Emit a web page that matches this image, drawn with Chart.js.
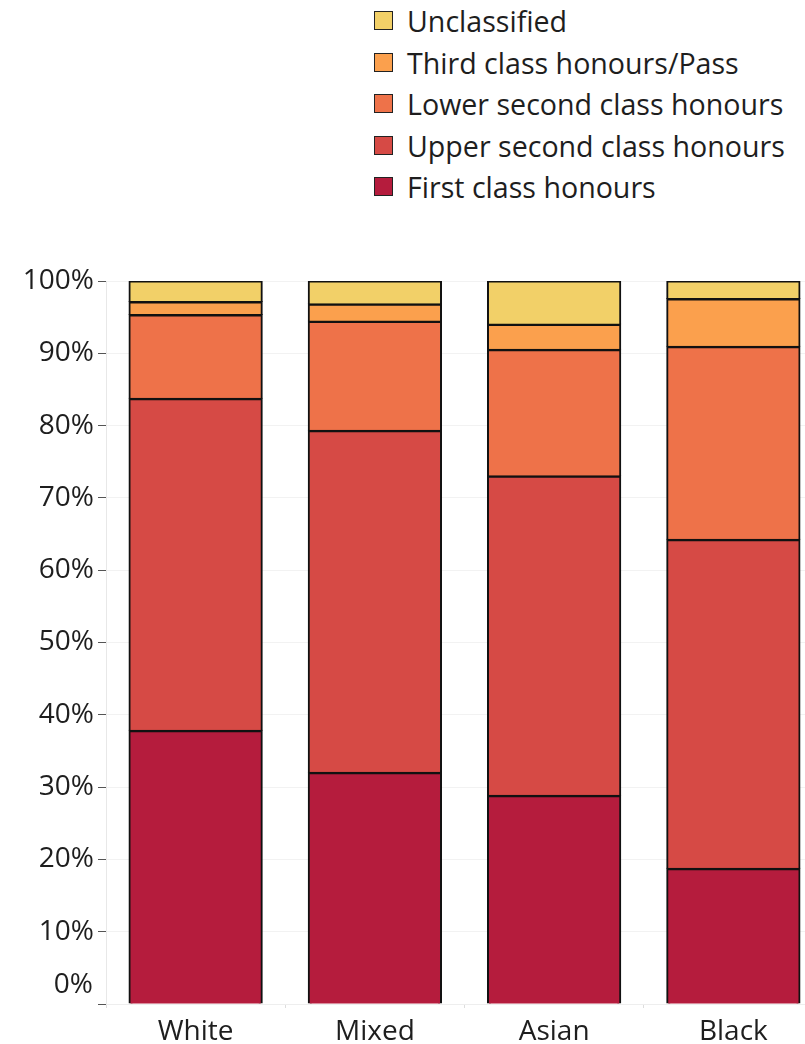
<!DOCTYPE html>
<html>
<head>
<meta charset="utf-8">
<script src="https://cdn.jsdelivr.net/npm/chart.js@4.4.1/dist/chart.umd.min.js"></script>
<style>
    html, body { margin: 0; padding: 0; background: #fff; overflow: hidden; }
    body { width: 805px; height: 1044px; position: relative; font-family: "Open Sans", Lato, sans-serif; }
    #wrap { position: absolute; left: 0; top: 0; width: 823px; height: 1044px; }
    #legend { position: absolute; left: 374px; top: 0; margin: 0; padding: 0; list-style: none; }
    #legend li { height: 41.5px; display: flex; align-items: center; font-size: 28.6px; color: #1e1e1e; white-space: nowrap; }
    #legend li span.box { width: 17px; height: 17px; border: 1.5px solid #222; margin-right: 14px; flex: none; }
</style>
</head>
<body>
<ul id="legend"></ul>
<div id="wrap"><canvas id="degreeChart"></canvas></div>
<script>
// --- Data ---
const groups = ['White', 'Mixed', 'Asian', 'Black'];
const firstClass = [37.8, 32.0, 28.8, 18.7];
const upperSecond = [45.9, 47.3, 44.2, 45.5];
const lowerSecond = [11.6, 15.1, 17.5, 26.7];
const thirdPass = [1.8, 2.4, 3.5, 6.6];
const unclassified = [2.9, 3.2, 6.0, 2.5];
const yTicks = [0, 10, 20, 30, 40, 50, 60, 70, 80, 90, 100];

const seriesNames = ['First class honours', 'Upper second class honours', 'Lower second class honours', 'Third class honours/Pass', 'Unclassified'];
const seriesValues = [firstClass, upperSecond, lowerSecond, thirdPass, unclassified];
const seriesColors = ['#b51c3d', '#d64a45', '#ee7249', '#fba04d', '#f2d068'];

const textColor = '#1e1e1e';
const fontFamily = '"Open Sans", Lato, sans-serif';
const fontSize = 28;

// the reference draws the 0% label a bit above its tick
const zeroLabel = {
    id: 'zeroLabel',
    afterDraw(chart) {
        const y = chart.scales.y;
        const ctx = chart.ctx;
        ctx.save();
        ctx.font = `${fontSize}px ${fontFamily}`;
        ctx.fillStyle = textColor;
        ctx.textAlign = 'right';
        ctx.textBaseline = 'middle';
        ctx.fillText('0%', 93, y.getPixelForValue(0) - 19);
        ctx.restore();
    }
};

const chart = new Chart(document.getElementById('degreeChart'), {
    type: 'bar',
    data: {
        labels: groups,
        datasets: seriesNames.map((name, i) => ({
            label: name,
            data: seriesValues[i],
            backgroundColor: seriesColors[i],
            borderColor: '#111111',
            // each segment only outlines its top edge; a small overlap hides the seam below it
            borderWidth: { top: 2.5, bottom: 0, left: 2, right: 2 },
            borderSkipped: false,
            inflateAmount: 1,
            barPercentage: 0.738,
            categoryPercentage: 1
        }))
    },
    options: {
        responsive: true,
        maintainAspectRatio: false,
        animation: false,
        layout: { padding: { top: 281, left: 0, right: 0, bottom: 0 } },
        plugins: {
            legend: { display: false },
            tooltip: { enabled: false }
        },
        scales: {
            x: {
                stacked: true,
                afterFit: s => { s.height = 40; },
                grid: {
                    display: true,
                    offset: true,
                    drawOnChartArea: false,
                    tickLength: 4,
                    tickColor: '#dddddd'
                },
                border: { color: '#eeeeee' },
                ticks: { color: textColor, padding: 7, font: { family: fontFamily, size: fontSize } }
            },
            y: {
                stacked: true,
                min: 0,
                max: 100,
                afterFit: s => { s.width = 106; },
                afterBuildTicks: s => { s.ticks = yTicks.map(v => ({ value: v })); },
                grid: {
                    color: '#f2f2f2',
                    tickColor: '#555555',
                    tickLength: 8
                },
                border: { color: '#e8e8e8' },
                ticks: {
                    color: textColor,
                    padding: 4,
                    font: { family: fontFamily, size: fontSize },
                    callback: v => v === 0 ? '' : v + '%'
                }
            }
        }
    },
    plugins: [zeroLabel]
});

// --- Legend, top series first ---
const legendEl = document.getElementById('legend');
chart.data.datasets.slice().reverse().forEach(ds => {
    const li = document.createElement('li');
    li.innerHTML = `<span class="box" style="background:${ds.backgroundColor}"></span>${ds.label}`;
    legendEl.appendChild(li);
});
</script>
</body>
</html>
